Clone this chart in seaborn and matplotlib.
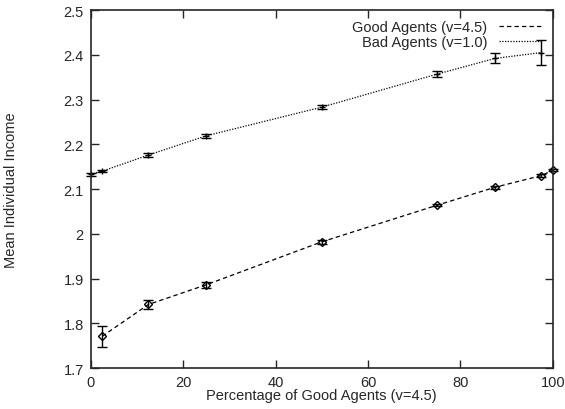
import numpy as np
import pandas as pd
import seaborn as sns
import matplotlib
matplotlib.use("Agg")
import matplotlib.pyplot as plt

# good agents (v=4.5)
good_pct = [2.5, 12.5, 25, 50, 75, 87.5, 97.5, 100]
good_income = [1.771, 1.842, 1.886, 1.982, 2.064, 2.104, 2.130, 2.142]
good_err = [0.023, 0.010, 0.007, 0.004, 0.003, 0.003, 0.003, 0.002]

# bad agents (v=1.0)
bad_pct = [0, 2.5, 12.5, 25, 50, 75, 87.5, 97.5]
bad_income = [2.133, 2.140, 2.176, 2.219, 2.283, 2.357, 2.392, 2.405]
bad_err = [0.003, 0.003, 0.004, 0.004, 0.005, 0.007, 0.011, 0.028]

df = pd.concat([
    pd.DataFrame({"pct": good_pct, "income": good_income, "err": good_err,
                  "group": "Good Agents (v=4.5)"}),
    pd.DataFrame({"pct": bad_pct, "income": bad_income, "err": bad_err,
                  "group": "Bad Agents (v=1.0)"}),
])

sns.set_style("ticks")
plt.rcParams["font.family"] = ["Liberation Sans", "DejaVu Sans"]
plt.rcParams["font.size"] = 10.5

fig = plt.figure(figsize=(5.65, 4.10), dpi=100)
ax = fig.add_axes([0.1605, 0.1, 0.818, 0.873])

styles = {
    "Good Agents (v=4.5)": dict(ls=(0, (3.5, 2.5)), marker="D", ms=4.5),
    "Bad Agents (v=1.0)": dict(ls=(0, (1, 1.2)), marker="+", ms=5),
}

for name, sub in df.groupby("group", sort=False):
    st = styles[name]
    sns.lineplot(data=sub, x="pct", y="income", ax=ax, color="black",
                 lw=0.9, linestyle=st["ls"], label=name, legend=False)
    eb = ax.errorbar(sub["pct"], sub["income"], yerr=sub["err"], fmt="none",
                     ecolor="black", elinewidth=1.0, capsize=3.5, capthick=1.0)
    for art in eb.get_children():
        art.set_clip_on(False)
    ax.plot(sub["pct"], sub["income"], ls="none", marker=st["marker"],
            ms=st["ms"], mfc="none", mec="black", mew=1.0, clip_on=False)

ax.set_xlim(0, 100)
ax.set_ylim(1.7, 2.5)
ax.set_xticks(np.arange(0, 101, 20))
yt = np.round(np.arange(1.7, 2.51, 0.1), 1)
ax.set_yticks(yt)
ax.set_yticklabels([f"{v:g}" for v in yt])
ax.tick_params(direction="in", top=True, right=True, length=6, width=1,
               labelsize=10.5, pad=5)
for s in ax.spines.values():
    s.set_linewidth(1.2)

ax.set_xlabel("Percentage of Good Agents (v=4.5)", fontsize=10.5, labelpad=-1)
ax.set_ylabel("Mean Individual Income", fontsize=10.5)
ax.yaxis.set_label_coords(-0.158, 0.5)

leg = ax.legend(loc="upper right", frameon=False, markerfirst=False,
                handlelength=3, handletextpad=0.8, borderaxespad=0.3,
                labelspacing=0.05, fontsize=10.5)

fig.savefig("out.png", dpi=100)
